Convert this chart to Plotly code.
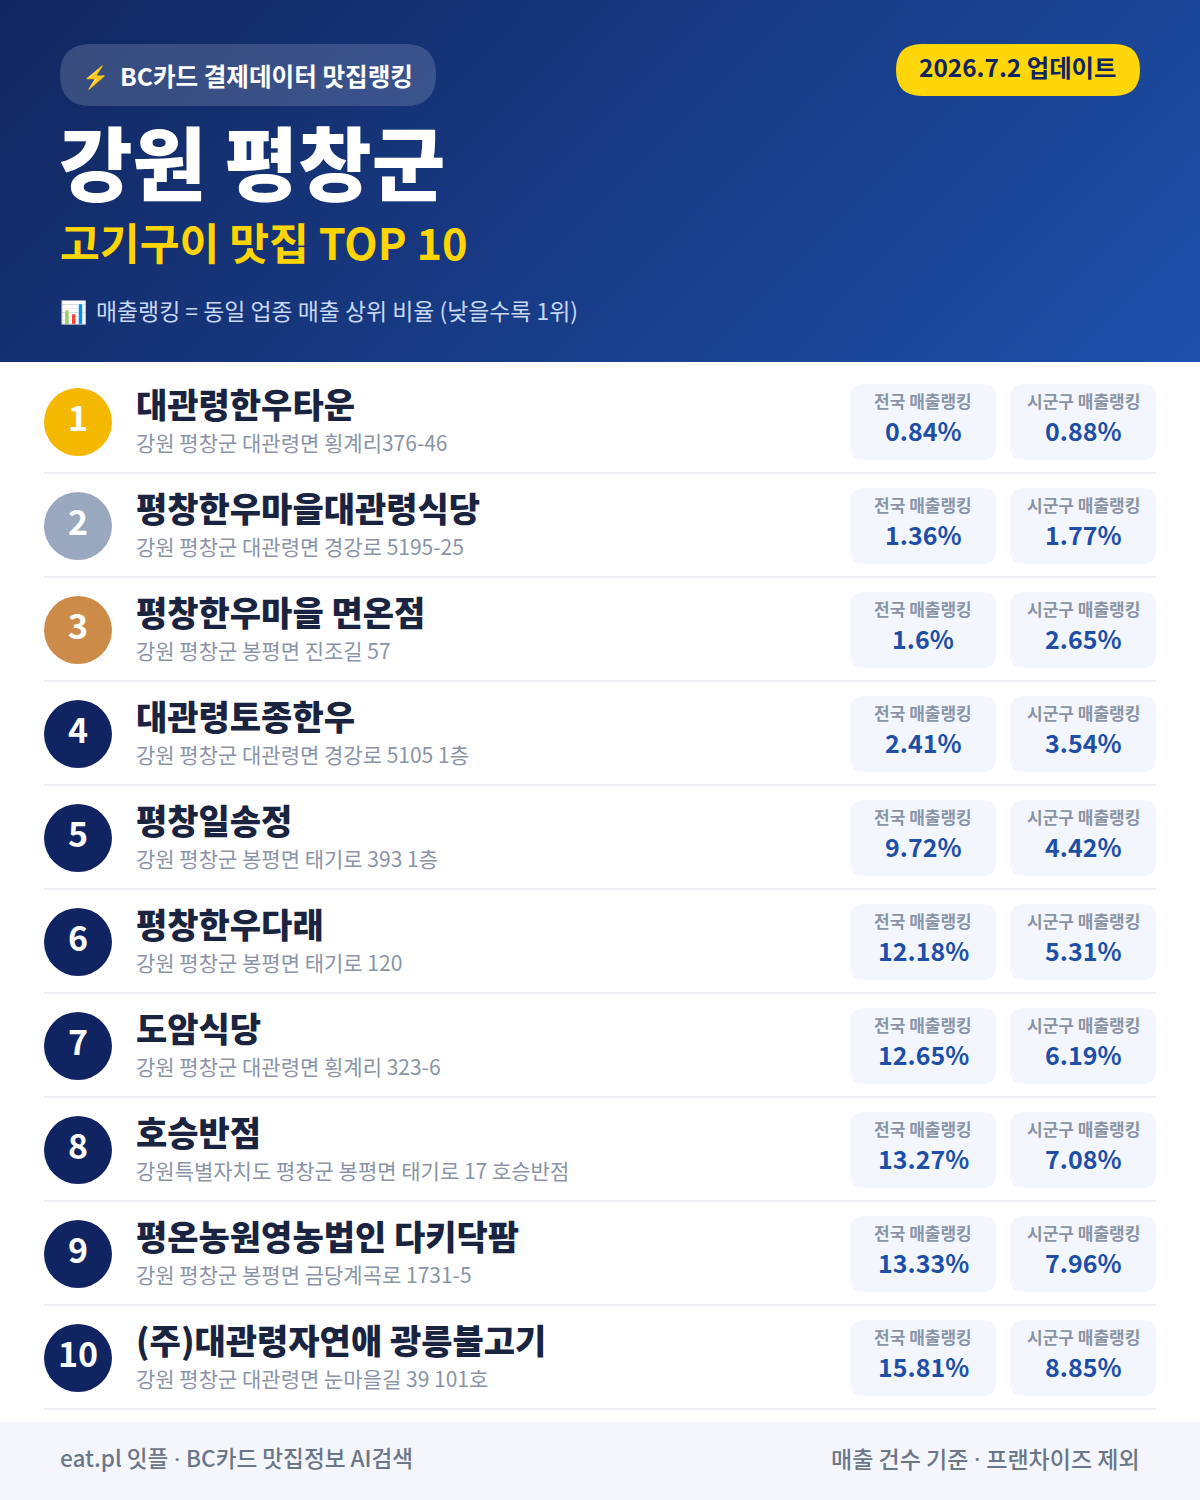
import plotly.graph_objects as go

# restaurant table
ranks = [1, 2, 3, 4, 5, 6, 7, 8, 9, 10]
names = [
    "대관령한우타운",
    "평창한우마을대관령식당",
    "평창한우마을 면온점",
    "대관령토종한우",
    "평창일송정",
    "평창한우다래",
    "도암식당",
    "호승반점",
    "평온농원영농법인 다키닥팜",
    "(주)대관령자연애 광릉불고기",
]
addresses = [
    "강원 평창군 대관령면 횡계리376-46",
    "강원 평창군 대관령면 경강로 5195-25",
    "강원 평창군 봉평면 진조길 57",
    "강원 평창군 대관령면 경강로 5105 1층",
    "강원 평창군 봉평면 태기로 393 1층",
    "강원 평창군 봉평면 태기로 120",
    "강원 평창군 대관령면 횡계리 323-6",
    "강원특별자치도 평창군 봉평면 태기로 17 호승반점",
    "강원 평창군 봉평면 금당계곡로 1731-5",
    "강원 평창군 대관령면 눈마을길 39 101호",
]
national_rank = ["0.84%", "1.36%", "1.6%", "2.41%", "9.72%", "12.18%", "12.65%", "13.27%", "13.33%", "15.81%"]
district_rank = ["0.88%", "1.77%", "2.65%", "3.54%", "4.42%", "5.31%", "6.19%", "7.08%", "7.96%", "8.85%"]
badge_colors = ["#f5b800", "#9aa8bf", "#cd8b4a"]

FONT = "Noto Sans CJK KR"
DOT = '<span style="font-family:Roboto"> · </span>'
NAVY = "#0f2460"
W, H = 1200, 1500
HEADER_H = 362
ROW_PITCH = 104
ROW_TOP = 370


def rounded(x0, y0, x1, y1, r):
    return (
        f"M{x0 + r},{y0} L{x1 - r},{y0} Q{x1},{y0} {x1},{y0 + r} L{x1},{y1 - r} Q{x1},{y1} {x1 - r},{y1} "
        f"L{x0 + r},{y1} Q{x0},{y1} {x0},{y1 - r} L{x0},{y0 + r} Q{x0},{y0} {x0 + r},{y0} Z"
    )


def label(x, y, text, size, color, weight=400, anchor="left"):
    # annotations carry a little padding, pull the text back onto its edge
    nudge = {"left": -2, "center": 0, "right": 2}[anchor]
    fig.add_annotation(
        x=x + nudge, y=y, text=text, showarrow=False, xanchor=anchor, yanchor="middle",
        font=dict(family=FONT, size=size, color=color, weight=weight),
    )


def box(x0, y0, x1, y1, r, color):
    fig.add_shape(type="path", path=rounded(x0, y0, x1, y1, r), fillcolor=color, line_width=0)


fig = go.Figure()

# header gradient: corners of a 135deg blend
fig.add_trace(
    go.Heatmap(
        x=[0, W], y=[0, HEADER_H], z=[[0, 0.77], [0.23, 1]], zsmooth="best", showscale=False,
        zmin=0, zmax=1, colorscale=[[0, "#11265f"], [1, "#1e50aa"]], hoverinfo="skip",
    )
)
fig.add_shape(type="rect", x0=0, x1=W, y0=HEADER_H, y1=H + 300, fillcolor="white", line_width=0)

box(60, 44, 436, 106, 31, "rgba(255,255,255,0.16)")
label(82, 75, "⚡", 22, "#ffd400")
label(120, 74.5, "BC카드 결제데이터 맛집랭킹", 24.6, "white", 700)
box(896, 44, 1140, 96, 26, "#ffd60a")
label(1018, 66.5, "2026.7.2 업데이트", 24.4, NAVY, 700, "center")
label(59, 159, "강원 평창군", 80, "white", 900)
label(60, 241, "고기구이 맛집 TOP 10", 43.3, "#ffd400", 700)
label(60, 310, "📊", 22, "white")
label(96, 310, "매출랭킹 = 동일 업종 매출 상위 비율 (낮을수록 1위)", 22.9, "#c9d8f5")

for i, rank in enumerate(ranks):
    top = ROW_TOP + i * ROW_PITCH
    color = badge_colors[i] if i < len(badge_colors) else NAVY
    fig.add_shape(type="circle", x0=44, x1=112, y0=top + 18, y1=top + 86, fillcolor=color, line_width=0)
    label(78, top + 46, str(rank), 34, "white", 700, "center")
    label(136, top + 33, names[i], 34, "#1a2340", 800)
    label(136, top + 72, addresses[i], 21, "#8a94a6")
    box(850, top + 14, 996, top + 90, 14, "#f3f6fd")
    box(1010, top + 14, 1156, top + 90, 14, "#f3f6fd")
    label(923, top + 30.5, "전국 매출랭킹", 17, "#8a94a6", 600, "center")
    label(1083, top + 30.5, "시군구 매출랭킹", 17, "#8a94a6", 600, "center")
    label(923, top + 60, national_rank[i], 25, "#1e4fa8", 700, "center")
    label(1083, top + 60, district_rank[i], 25, "#1e4fa8", 700, "center")
    fig.add_shape(type="line", x0=44, x1=1156, y0=top + 103, y1=top + 103, line=dict(color="#eef0f3", width=2))

fig.add_shape(type="rect", x0=0, x1=W, y0=1422, y1=H, fillcolor="#f4f6fb", line_width=0)
label(60, 1457.5, f"eat.pl 잇플{DOT}BC카드 맛집정보 AI검색", 22.6, "#6b7688", 500)
label(1140, 1457.5, f"매출 건수 기준{DOT}프랜차이즈 제외", 23, "#6b7688", 500, "right")

fig.update_layout(
    width=W, height=H, margin=dict(l=0, r=0, t=0, b=0),
    paper_bgcolor="white", plot_bgcolor="white", showlegend=False,
    xaxis=dict(range=[0, W], visible=False, fixedrange=True),
    yaxis=dict(range=[H, 0], visible=False, fixedrange=True),
)

fig.write_html(
    "out.html",
    config={"displayModeBar": False},
    post_script="document.body.style.margin='0';",
)
